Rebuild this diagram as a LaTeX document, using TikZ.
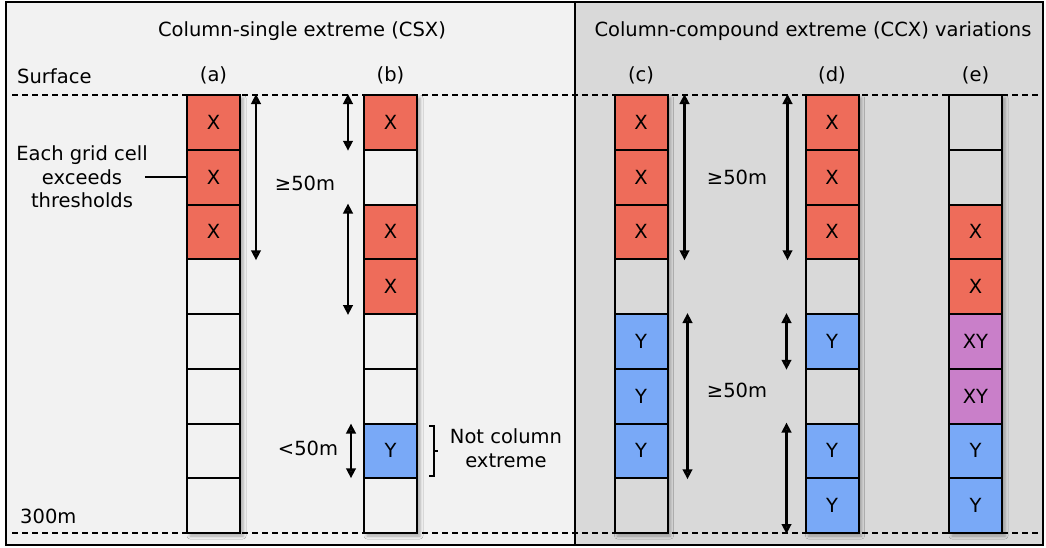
\documentclass[tikz,border=0pt]{standalone}
\usepackage{fontspec}
\setmainfont{DejaVu Sans}
\usetikzlibrary{arrows.meta,shadows.blur}
\definecolor{xred}{HTML}{EE6C5A}
\definecolor{yblue}{HTML}{79A9F7}
\definecolor{xypurple}{HTML}{C97FC9}
\definecolor{lpanel}{HTML}{F2F2F2}
\definecolor{rpanel}{HTML}{D9D9D9}
\begin{document}
\begin{tikzpicture}[x=1pt,y=-1pt,
  font=\fontsize{19.5}{23.5}\selectfont,
  cell/.style={draw=black, line width=2pt, minimum width=53pt,
    minimum height=54.75pt, inner sep=0pt},
  colshadow/.style={blur shadow={shadow xshift=3pt, shadow yshift=-3pt,
      shadow blur radius=3pt, shadow opacity=30}},
  cX/.style={fill=xred, node contents=X},
  cY/.style={fill=yblue, node contents=Y},
  cXY/.style={fill=xypurple, node contents=XY},
  cO/.style={node contents={}},
  dim/.style={line width=2.6pt, >={Triangle[length=10pt,width=9.5pt]}, <->},
  txt/.style={inner sep=0pt, align=center},
  level/.style={line width=1.5pt, dash pattern=on 6pt off 4pt}]
\useasboundingbox (0,0) rectangle (1046,547);

% panels
\fill[lpanel] (6,2) rectangle (575,545);
\fill[rpanel] (575,2) rectangle (1043,545);
\draw[line width=1.8pt] (575,2) -- (575,545);
\draw[line width=2.4pt] (6,2) rectangle (1043,545);

% titles
\node[txt] (tcsx) at (302,31) {Column-single extreme (CSX)};
\node[txt] (tccx) at (813,31) {Column-compound extreme (CCX) variations};

% surface and 300 m levels
\draw[level] (12,95) -- (1040,95);
\draw[level] (12,533) -- (1040,533);
\node[txt, anchor=west] (surf) at (17,76) {Surface};
\node[txt, anchor=west] (deep) at (20,516) {300m};

% column labels
\node[txt] (la) at (213.5,75) {(a)};
\node[txt] (lb) at (390.5,75) {(b)};
\node[txt] (lc) at (641,75) {(c)};
\node[txt] (ld) at (832,75) {(d)};
\node[txt] (le) at (975.5,75) {(e)};

% soft shadows behind the columns
\foreach \cx/\bg in {213.5/lpanel,390.5/lpanel,641/rpanel,832/rpanel,975.5/rpanel}
  \fill[\bg,colshadow] (\cx-26.5,95) rectangle (\cx+26.5,533);

% columns of grid cells
\foreach \t [count=\i from 0] in {X,X,X,O,O,O,O,O}
  \node (a\i) at (213.5,{95+54.75*(\i+0.5)}) [cell,fill=lpanel,c\t];
\foreach \t [count=\i from 0] in {X,O,X,X,O,O,Y,O}
  \node (b\i) at (390.5,{95+54.75*(\i+0.5)}) [cell,fill=lpanel,c\t];
\foreach \t [count=\i from 0] in {X,X,X,O,Y,Y,Y,O}
  \node (c\i) at (641,{95+54.75*(\i+0.5)}) [cell,fill=rpanel,c\t];
\foreach \t [count=\i from 0] in {X,X,X,O,Y,O,Y,Y}
  \node (d\i) at (832,{95+54.75*(\i+0.5)}) [cell,fill=rpanel,c\t];
\foreach \t [count=\i from 0] in {O,O,X,X,XY,XY,Y,Y}
  \node (e\i) at (975.5,{95+54.75*(\i+0.5)}) [cell,fill=rpanel,c\t];

% annotation of (a)
\node[txt] (each) at (82,177) {Each grid cell\\exceeds\\thresholds};
\draw[line width=2.4pt] (each.east |- a1.west) ++(-3pt,0) -- (a1.west);

% depth arrows
\draw[dim] ([xshift=15pt]a0.north east) -- ([xshift=15pt]a2.south east);
\node[txt] (ga) at (305,183) {≥50m};

\draw[dim] ([xshift=-15pt]b0.north west) -- ([xshift=-15pt]b0.south west);
\draw[dim] ([xshift=-15pt]b2.north west) -- ([xshift=-15pt]b3.south west);
\draw[dim] ([xshift=-12pt,yshift=-1pt]b6.north west) -- ([xshift=-12pt,yshift=1pt]b6.south west);
\node[txt] (lt) at (308,448) {<50m};
\draw[line width=2.4pt] ([xshift=11pt,yshift=-3.5pt]b6.north east) -- ++(5pt,0)
  -- ([xshift=16pt,yshift=3.5pt]b6.south east) -- ++(-5pt,0);
\draw[line width=2.4pt] ([xshift=16pt]b6.east) -- ++(4pt,0);
\node[txt] (nce) at (506,448) {Not column\\extreme};

\draw[dim] ([xshift=16pt]c0.north east) -- ([xshift=16pt]c2.south east);
\node[txt] (gc1) at (737,177) {≥50m};
\draw[dim] ([xshift=19pt]c4.north east) -- ([xshift=19pt]c6.south east);
\node[txt] (gc2) at (737,390) {≥50m};

\draw[dim] ([xshift=-17pt]d0.north west) -- ([xshift=-17pt]d2.south west);
\draw[dim] ([xshift=-18pt]d4.north west) -- ([xshift=-18pt]d4.south west);
\draw[dim] ([xshift=-18pt]d6.north west) -- ([xshift=-18pt]d7.south west);
\end{tikzpicture}
\end{document}
